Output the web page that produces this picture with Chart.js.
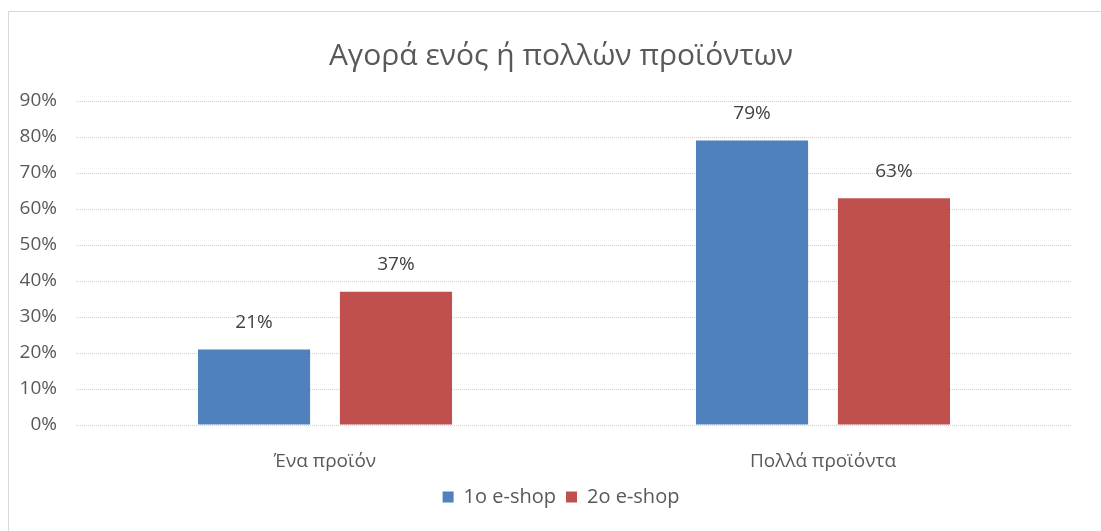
<!DOCTYPE html>
<html lang="el">
<head>
<meta charset="utf-8">
<title>Αγορά ενός ή πολλών προϊόντων</title>
<script src="https://cdn.jsdelivr.net/npm/chart.js@4.4.1/dist/chart.umd.min.js"></script>
<style>
  html, body { margin: 0; padding: 0; background: #ffffff; overflow: hidden; }
  body { width: 1101px; height: 531px; position: relative; }
  #frame {
    position: absolute; left: 8px; top: 11px; width: 1120px; height: 540px;
    border-left: 1px solid #d9d9d9; border-top: 1px solid #d9d9d9;
    box-sizing: border-box;
  }
  #chart { position: absolute; left: 9px; top: 12px; }
</style>
</head>
<body>
<div id="frame"></div>
<canvas id="chart" width="1104" height="519"></canvas>
<script>
// Categories, series and axis ticks
const categories = ['Ένα προϊόν', 'Πολλά προϊόντα'];
const seriesNames = ['1ο e-shop', '2ο e-shop'];
const shop1Values = [21, 79];
const shop2Values = [37, 63];
const yTicks = [0, 10, 20, 30, 40, 50, 60, 70, 80, 90];

const FONT = "'Open Sans', 'Noto Sans', sans-serif";
const TEXT = '#595959';

// Writes each bar's value above it
const barValueLabels = {
  id: 'barValueLabels',
  afterDatasetsDraw(chart) {
    const ctx = chart.ctx;
    ctx.save();
    ctx.font = '19px ' + FONT;
    ctx.fillStyle = '#404040';
    ctx.textAlign = 'center';
    ctx.textBaseline = 'middle';
    chart.data.datasets.forEach((ds, i) => {
      chart.getDatasetMeta(i).data.forEach((bar, j) => {
        ctx.fillText(ds.data[j] + '%', bar.x, bar.y - 27);
      });
    });
    ctx.restore();
  }
};

new Chart(document.getElementById('chart'), {
  type: 'bar',
  data: {
    labels: categories,
    datasets: [
      { label: seriesNames[0], data: shop1Values, backgroundColor: '#4f81bd' },
      { label: seriesNames[1], data: shop2Values, backgroundColor: '#c0504d' }
    ]
  },
  options: {
    responsive: false,
    animation: false,
    devicePixelRatio: 1,
    categoryPercentage: 0.57,
    barPercentage: 0.79,
    layout: { padding: { top: 0, right: 0, bottom: 14, left: 0 } },
    plugins: {
      title: {
        display: true,
        text: 'Αγορά ενός ή πολλών προϊόντων',
        color: TEXT,
        font: { family: FONT, size: 30, weight: 'normal' },
        padding: { top: 26, bottom: 27 }
      },
      legend: {
        position: 'bottom',
        labels: {
          color: TEXT,
          font: { family: FONT, size: 20 },
          boxWidth: 11,
          boxHeight: 11,
          padding: 10
        }
      },
      tooltip: { enabled: false }
    },
    scales: {
      x: {
        grid: { display: false },
        border: { display: false },
        ticks: { color: TEXT, font: { family: FONT, size: 19 }, padding: 17 },
        afterFit(scale) { scale.height = 52; }
      },
      y: {
        min: 0,
        max: 90,
        afterBuildTicks(scale) { scale.ticks = yTicks.map(v => ({ value: v })); },
        grid: { color: '#d0d0d0', lineWidth: 1, drawTicks: false },
        border: { display: false, dash: [1, 1] },
        ticks: {
          color: TEXT,
          font: { family: FONT, size: 19 },
          padding: 19,
          callback: v => v + '%'
        },
        afterFit(scale) { scale.width = 67; }
      },
      // empty right margin beside the plot
      yRight: {
        type: 'linear',
        position: 'right',
        min: 0,
        max: 90,
        grid: { drawOnChartArea: false, drawTicks: false },
        border: { display: false },
        ticks: { display: false },
        afterFit(scale) { scale.width = 41; }
      }
    }
  },
  plugins: [barValueLabels]
});
</script>
</body>
</html>
